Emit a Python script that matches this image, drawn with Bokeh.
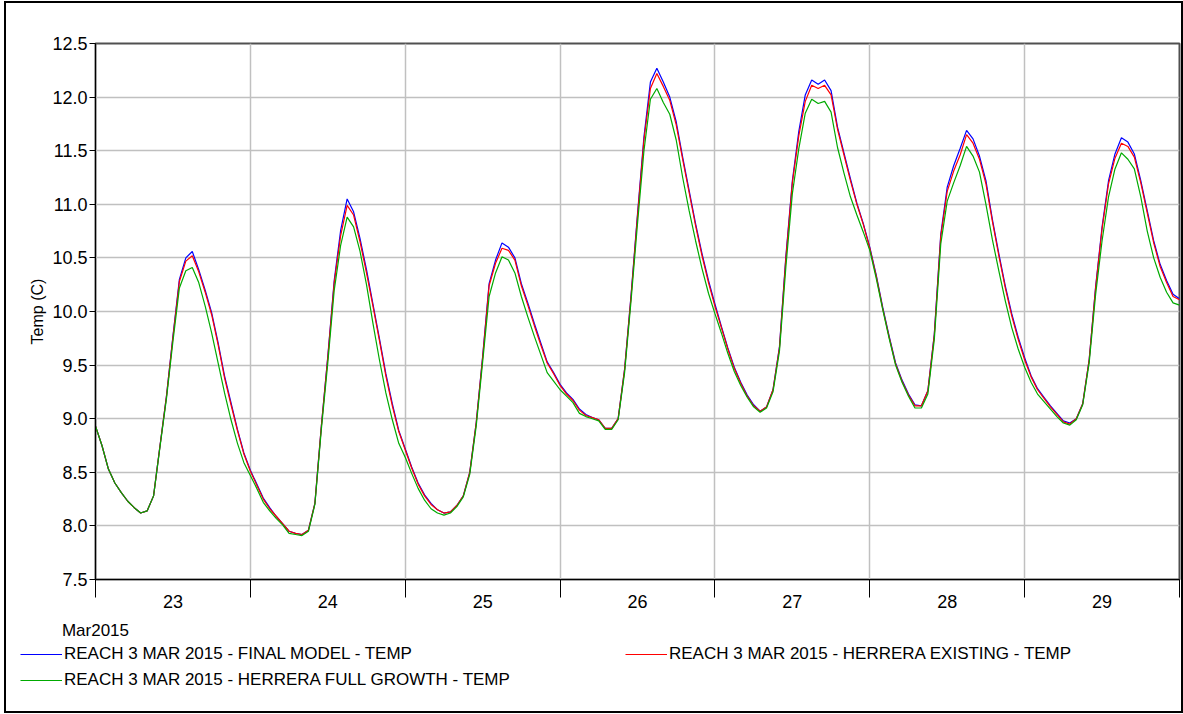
from bokeh.plotting import figure
from bokeh.models import Range1d, FixedTicker, NumeralTickFormatter, Legend, LegendItem
from bokeh.layouts import column
from bokeh.embed import file_html
from bokeh.resources import INLINE
import pandas as pd

FONT = "Liberation Sans"

# hourly values, Mar 23 00:00 .. Mar 30 00:00 (2015)
final_model = [
    8.93, 8.75, 8.53, 8.40, 8.31, 8.23, 8.17, 8.12, 8.14, 8.28, 8.75, 9.21, 9.77, 10.30, 10.50, 10.56, 10.39, 10.20, 9.99, 9.71, 9.40, 9.15, 8.90, 8.68,
    8.52, 8.39, 8.26, 8.17, 8.09, 8.02, 7.95, 7.93, 7.92, 7.96, 8.21, 8.93, 9.58, 10.29, 10.76, 11.05, 10.93, 10.68, 10.39, 10.07, 9.75, 9.42, 9.14, 8.89,
    8.72, 8.55, 8.40, 8.29, 8.21, 8.15, 8.12, 8.13, 8.19, 8.28, 8.50, 8.96, 9.58, 10.26, 10.48, 10.64, 10.60, 10.50, 10.26, 10.08, 9.89, 9.71, 9.53, 9.43,
    9.32, 9.24, 9.18, 9.09, 9.04, 9.01, 8.99, 8.91, 8.91, 9.00, 9.46, 10.15, 10.91, 11.63, 12.14, 12.27, 12.14, 12.00, 11.77, 11.44, 11.13, 10.82, 10.54, 10.29,
    10.07, 9.86, 9.66, 9.48, 9.34, 9.22, 9.13, 9.07, 9.11, 9.27, 9.67, 10.52, 11.22, 11.68, 12.02, 12.16, 12.12, 12.16, 12.06, 11.72, 11.48, 11.24, 11.01, 10.82,
    10.60, 10.34, 10.04, 9.77, 9.52, 9.36, 9.23, 9.13, 9.12, 9.26, 9.79, 10.72, 11.16, 11.36, 11.52, 11.69, 11.61, 11.45, 11.22, 10.86, 10.54, 10.24, 9.98, 9.76,
    9.57, 9.40, 9.28, 9.20, 9.12, 9.05, 8.98, 8.96, 9.00, 9.14, 9.55, 10.23, 10.79, 11.22, 11.47, 11.62, 11.58, 11.47, 11.22, 10.94, 10.66, 10.44, 10.29, 10.16,
    10.12,
]
herrera_existing = [
    8.93, 8.75, 8.53, 8.40, 8.31, 8.23, 8.17, 8.12, 8.14, 8.28, 8.75, 9.21, 9.76, 10.28, 10.47, 10.52, 10.37, 10.18, 9.97, 9.69, 9.38, 9.13, 8.89, 8.67,
    8.51, 8.38, 8.25, 8.16, 8.09, 8.02, 7.95, 7.93, 7.92, 7.96, 8.21, 8.93, 9.57, 10.27, 10.71, 10.99, 10.90, 10.65, 10.36, 10.05, 9.73, 9.40, 9.12, 8.88,
    8.71, 8.54, 8.39, 8.28, 8.20, 8.15, 8.12, 8.13, 8.19, 8.28, 8.50, 8.96, 9.57, 10.24, 10.45, 10.59, 10.57, 10.48, 10.24, 10.06, 9.87, 9.69, 9.52, 9.42,
    9.31, 9.23, 9.17, 9.08, 9.03, 9.01, 8.99, 8.91, 8.91, 9.00, 9.46, 10.14, 10.89, 11.60, 12.08, 12.22, 12.10, 11.97, 11.74, 11.42, 11.11, 10.80, 10.52, 10.27,
    10.05, 9.85, 9.65, 9.47, 9.33, 9.21, 9.12, 9.07, 9.11, 9.27, 9.66, 10.50, 11.20, 11.64, 11.96, 12.11, 12.08, 12.11, 12.02, 11.70, 11.46, 11.22, 11.00, 10.81,
    10.59, 10.33, 10.03, 9.76, 9.51, 9.35, 9.22, 9.12, 9.12, 9.26, 9.78, 10.70, 11.12, 11.31, 11.46, 11.65, 11.57, 11.42, 11.19, 10.84, 10.52, 10.22, 9.96, 9.74,
    9.55, 9.39, 9.27, 9.19, 9.11, 9.04, 8.97, 8.95, 9.00, 9.14, 9.55, 10.22, 10.77, 11.19, 11.43, 11.57, 11.54, 11.44, 11.20, 10.92, 10.64, 10.42, 10.27, 10.14,
    10.11,
]
herrera_full_growth = [
    8.93, 8.75, 8.53, 8.40, 8.31, 8.23, 8.17, 8.12, 8.14, 8.28, 8.74, 9.19, 9.72, 10.22, 10.38, 10.41, 10.27, 10.05, 9.80, 9.52, 9.24, 8.99, 8.77, 8.59,
    8.47, 8.35, 8.22, 8.14, 8.07, 8.01, 7.93, 7.92, 7.91, 7.95, 8.20, 8.90, 9.52, 10.20, 10.62, 10.88, 10.79, 10.56, 10.25, 9.89, 9.55, 9.24, 8.99, 8.77,
    8.64, 8.49, 8.35, 8.24, 8.16, 8.12, 8.10, 8.12, 8.18, 8.27, 8.48, 8.93, 9.53, 10.14, 10.36, 10.51, 10.48, 10.36, 10.14, 9.95, 9.77, 9.60, 9.43, 9.35,
    9.27, 9.21, 9.15, 9.05, 9.02, 9.00, 8.98, 8.90, 8.90, 8.99, 9.43, 10.10, 10.82, 11.50, 11.98, 12.08, 11.95, 11.84, 11.60, 11.25, 10.94, 10.66, 10.40, 10.17,
    9.98, 9.80, 9.61, 9.44, 9.31, 9.20, 9.11, 9.06, 9.10, 9.25, 9.63, 10.42, 11.10, 11.52, 11.85, 11.98, 11.94, 11.96, 11.86, 11.53, 11.29, 11.07, 10.90, 10.74,
    10.57, 10.31, 10.02, 9.75, 9.50, 9.34, 9.21, 9.10, 9.10, 9.23, 9.74, 10.63, 11.03, 11.20, 11.36, 11.54, 11.45, 11.30, 11.00, 10.67, 10.38, 10.10, 9.85, 9.65,
    9.48, 9.34, 9.23, 9.16, 9.09, 9.02, 8.96, 8.94, 8.99, 9.13, 9.52, 10.16, 10.66, 11.07, 11.33, 11.48, 11.42, 11.33, 11.07, 10.75, 10.50, 10.32, 10.18, 10.08,
    10.06,
]

series_names = [
    "REACH 3 MAR 2015 - FINAL MODEL - TEMP",
    "REACH 3 MAR 2015 - HERRERA EXISTING - TEMP",
    "REACH 3 MAR 2015 - HERRERA FULL GROWTH - TEMP",
]
series_colors = ["#0000ff", "#ff0000", "#00aa00"]
series_values = [final_model, herrera_existing, herrera_full_growth]

day_labels = ["23", "24", "25", "26", "27", "28", "29"]
day_starts = [23, 24, 25, 26, 27, 28, 29, 30]
day_mids = [d + 0.5 for d in day_starts[:-1]]
y_ticks = [7.5, 8.0, 8.5, 9.0, 9.5, 10.0, 10.5, 11.0, 11.5, 12.0, 12.5]
month_label = "Mar2015"
y_label = "Temp (C)"

times = pd.date_range("2015-03-23 00:00", periods=len(final_model), freq="h")
xs = [t.day + t.hour / 24.0 for t in times]

W = 1175
H_MAIN = 639
H_LEG = 69

p = figure(width=W, height=H_MAIN, x_range=Range1d(23, 30), y_range=Range1d(7.5, 12.5),
           output_backend="svg", toolbar_location=None, title=None,
           min_border_left=89, min_border_right=2, min_border_top=40, min_border_bottom=H_MAIN - 577)
p.background_fill_color = "white"
p.border_fill_color = "white"
p.outline_line_color = "#505050"
p.outline_line_width = 2

# y axis
yax = p.yaxis[0]
yax.ticker = FixedTicker(ticks=y_ticks)
yax.formatter = NumeralTickFormatter(format="0.0")
yax.axis_label = y_label
yax.axis_label_text_font = FONT
yax.axis_label_text_font_size = "16px"
yax.axis_label_text_font_style = "normal"
yax.axis_label_text_color = "black"
yax.axis_label_standoff = 3
yax.major_label_text_font = FONT
yax.major_label_text_font_size = "18px"
yax.major_label_text_color = "black"
yax.major_label_standoff = 2
yax.major_tick_out = 6
yax.major_tick_in = 0
yax.minor_tick_out = 0
yax.minor_tick_in = 0
yax.axis_line_color = "black"
yax.major_tick_line_color = "black"

# x axis: day labels centred, ticks at day boundaries
xax = p.xaxis[0]
xax.ticker = FixedTicker(ticks=day_mids, minor_ticks=day_starts)
xax.major_label_overrides = {m: lab for m, lab in zip(day_mids, day_labels)}
xax.major_label_text_font = FONT
xax.major_label_text_font_size = "18px"
xax.major_label_text_color = "black"
xax.major_label_standoff = -3
xax.major_tick_out = 0
xax.major_tick_in = 0
xax.minor_tick_out = 18
xax.minor_tick_in = 0
xax.minor_tick_line_color = "black"
xax.axis_line_color = "black"

if "axis_label_align" in xax.properties():
    xax.axis_label = month_label
    xax.axis_label_align = "start"
    xax.axis_label_text_align = "left"
    xax.axis_label_text_font = FONT
    xax.axis_label_text_font_size = "17px"
    xax.axis_label_text_font_style = "normal"
    xax.axis_label_text_color = "black"
    xax.axis_label_standoff = 10

p.xgrid.ticker = FixedTicker(ticks=day_starts)
p.ygrid.ticker = FixedTicker(ticks=y_ticks)
for g in (p.xgrid[0], p.ygrid[0]):
    g.grid_line_color = "#c0c0c0"
    g.grid_line_width = 1.5

for vals, col in zip(series_values, series_colors):
    p.line(xs, vals, line_color=col, line_width=1.2)

# legend strip below the chart (its own canvas, so the legend is not clipped)
q = figure(width=W, height=H_LEG, x_range=Range1d(0, 1), y_range=Range1d(0, 1),
           output_backend="svg", toolbar_location=None, title=None,
           x_axis_location=None, y_axis_location=None, min_border=0)
q.grid.visible = False
q.outline_line_color = None
q.background_fill_color = "white"
q.border_fill_color = "white"
for fig in (p, q):
    if "frame_align" in fig.properties():
        fig.frame_align = False

# series drawn in the strip lie outside its ranges: only their legend glyphs show
leg_renderers = [q.line(xs, vals, line_color=c, line_width=1.2)
                 for vals, c in zip(series_values, series_colors)]

ROW_H = 20
ROW_GAP = 6
TOP = 2

def make_legend(idx, x):
    n = len(idx)
    h = n * ROW_H + (n - 1) * ROW_GAP
    return Legend(items=[LegendItem(label=series_names[i], renderers=[leg_renderers[i]]) for i in idx],
                  location=(x, H_LEG - TOP - h), orientation="vertical",
                  glyph_width=42, glyph_height=ROW_H, label_height=ROW_H, label_standoff=2,
                  spacing=ROW_GAP, padding=0, margin=0, border_line_color=None,
                  background_fill_alpha=0, label_text_font=FONT,
                  label_text_font_size="17px", label_text_color="black")

q.add_layout(make_legend([0, 2], 14))
q.add_layout(make_legend([1], 619))

layout = column(p, q, spacing=0)
layout.styles = {"margin-left": "6px", "margin-top": "3px", "outline": "2px solid black"}

open("out.html", "w").write(file_html(layout, INLINE))
